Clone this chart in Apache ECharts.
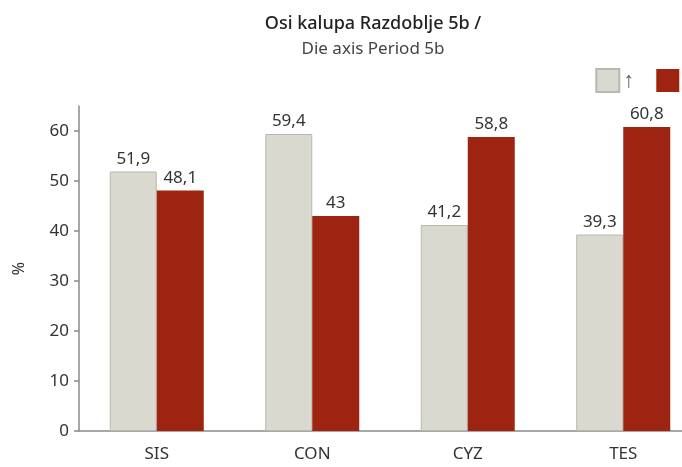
<!DOCTYPE html>
<html lang="en">
<head>
    <meta charset="UTF-8"/>
    <title>Osi kalupa Razdoblje 5b</title>
    <script src="https://cdn.jsdelivr.net/npm/echarts@6/dist/echarts.min.js"></script>
    <style>
        html, body { margin: 0; padding: 0; background: #fff; }
        #chart { width: 682px; height: 467px; }
    </style>
</head>
<body>
<div id="chart"></div>
<script type="text/javascript">
    // data
    var categories = ['SIS', 'CON', 'CYZ', 'TES'];
    var greyValues = [51.9, 59.4, 41.2, 39.3];
    var redValues = [48.1, 43, 58.8, 60.8];
    var yTicks = [0, 10, 20, 30, 40, 50, 60];

    var fontFam = '"Noto Sans", "Open Sans", sans-serif';
    var axisColor = '#8a8a8a';

    function commaLabel(p) {
        return String(p.value).replace('.', ',');
    }

    var myChart = echarts.init(document.getElementById('chart'));
    var option = {
        animation: false,
        title: [
            {
                text: 'Osi kalupa Razdoblje 5b /',
                left: 368, top: 10, textAlign: 'center',
                textStyle: {fontFamily: fontFam, fontSize: 18, fontWeight: 500, color: '#222'}
            },
            {
                text: 'Die axis Period 5b',
                left: 368, top: 36, textAlign: 'center',
                textStyle: {fontFamily: fontFam, fontSize: 17, fontWeight: 'normal', color: '#444'}
            }
        ],
        legend: {
            right: -12, top: 63,
            icon: 'rect',
            itemWidth: 23, itemHeight: 23, itemGap: 22,
            textStyle: {fontFamily: fontFam, fontSize: 22, color: '#666', padding: [0, 0, 0, -1]},
            data: ['↑', ' ']
        },
        grid: {left: 79, width: 622, top: 106, bottom: 36, outerBoundsMode: 'none', containLabel: false},
        xAxis: {
            type: 'category',
            data: categories,
            axisLine: {lineStyle: {color: axisColor, width: 1.5}},
            axisTick: {length: 7, lineStyle: {color: axisColor, width: 1.5}},
            axisLabel: {fontFamily: fontFam, fontSize: 17, color: '#333', margin: 15}
        },
        yAxis: {
            type: 'value',
            min: 0, max: 65,
            name: '%',
            nameLocation: 'middle',
            nameRotate: 90,
            nameGap: 52,
            nameTextStyle: {fontFamily: fontFam, fontSize: 16, color: '#333'},
            axisLine: {show: true, lineStyle: {color: axisColor, width: 1.5}},
            axisTick: {show: true, length: 5, customValues: yTicks, lineStyle: {color: axisColor, width: 1.5}},
            axisLabel: {fontFamily: fontFam, fontSize: 17, color: '#333', margin: 10, customValues: yTicks},
            splitLine: {show: false}
        },
        series: [
            {
                name: '↑',
                type: 'bar',
                data: greyValues,
                barWidth: 47,
                barGap: '0%',
                itemStyle: {color: '#d9d9cf', borderColor: '#b8b8b0', borderWidth: 1},
                label: {show: true, position: 'top', distance: 4, formatter: commaLabel,
                    fontFamily: fontFam, fontSize: 17, color: '#333'}
            },
            {
                name: ' ',
                type: 'bar',
                data: redValues,
                barWidth: 47,
                itemStyle: {color: '#9c2410'},
                label: {show: true, position: 'top', distance: 4, formatter: commaLabel,
                    fontFamily: fontFam, fontSize: 17, color: '#333'}
            }
        ]
    };
    myChart.setOption(option);
</script>
</body>
</html>
